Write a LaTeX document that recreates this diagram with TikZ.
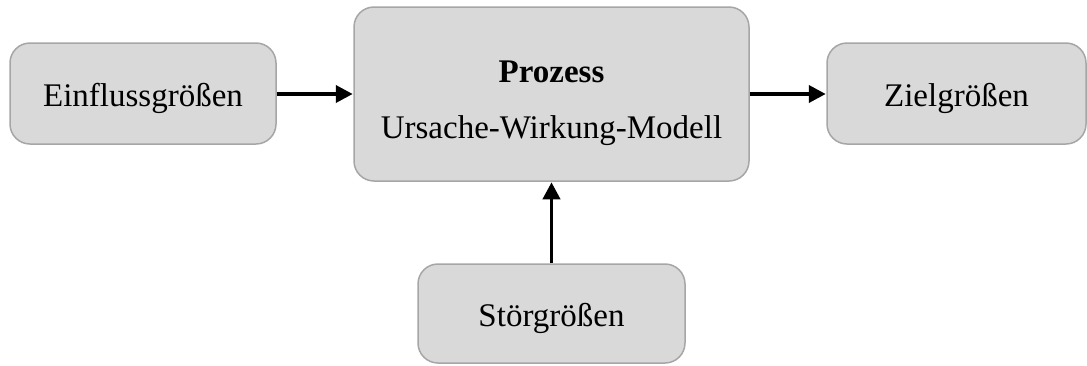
\documentclass[tikz,border=0pt]{standalone}
\usepackage{fontspec}
\setmainfont{Liberation Serif}
\usetikzlibrary{arrows.meta}
% text set a little below the geometric centre of its box
\newcommand{\lowtext}[1]{\raisebox{-4.5pt}[\height][\depth]{#1}}
\begin{document}
\begin{tikzpicture}[x=1pt,y=-1pt,
  block/.style={draw=black!35, line width=1.5pt, fill=black!15, rounded corners=20pt,
    inner sep=0pt, font=\fontsize{33}{40}\selectfont},
  lbl/.style={inner sep=0pt, font=\fontsize{33}{40}\selectfont},
  flow/.style={line width=3.8pt, -{Triangle[length=17pt,width=17pt]}, shorten >=0.5pt}]
  \useasboundingbox (0,0) rectangle (1087,365);
  \node[block, minimum width=266pt, minimum height=101pt] (ein) at (143,93.5) {\lowtext{Einflussgrößen}};
  \node[block, minimum width=395pt, minimum height=174pt] (proz) at (551.5,94) {};
  \node[lbl, anchor=base] (ptitle) at (551.5,82) {\textbf{Prozess}};
  \node[lbl, anchor=base] (pmodel) at (551.5,138) {Ursache-Wirkung-Modell};
  \node[block, minimum width=259pt, minimum height=101pt] (ziel) at (956.5,93.5) {\lowtext{Zielgrößen}};
  \node[block, minimum width=267pt, minimum height=99pt] (stoer) at (551.5,313.5) {\lowtext{Störgrößen}};
  \draw[flow] (ein.east |- 0,94) -- (proz.west |- 0,94);
  \draw[flow] (proz.east |- 0,94) -- (ziel.west |- 0,94);
  \draw[flow] (stoer.north) -- (proz.south);
\end{tikzpicture}
\end{document}
